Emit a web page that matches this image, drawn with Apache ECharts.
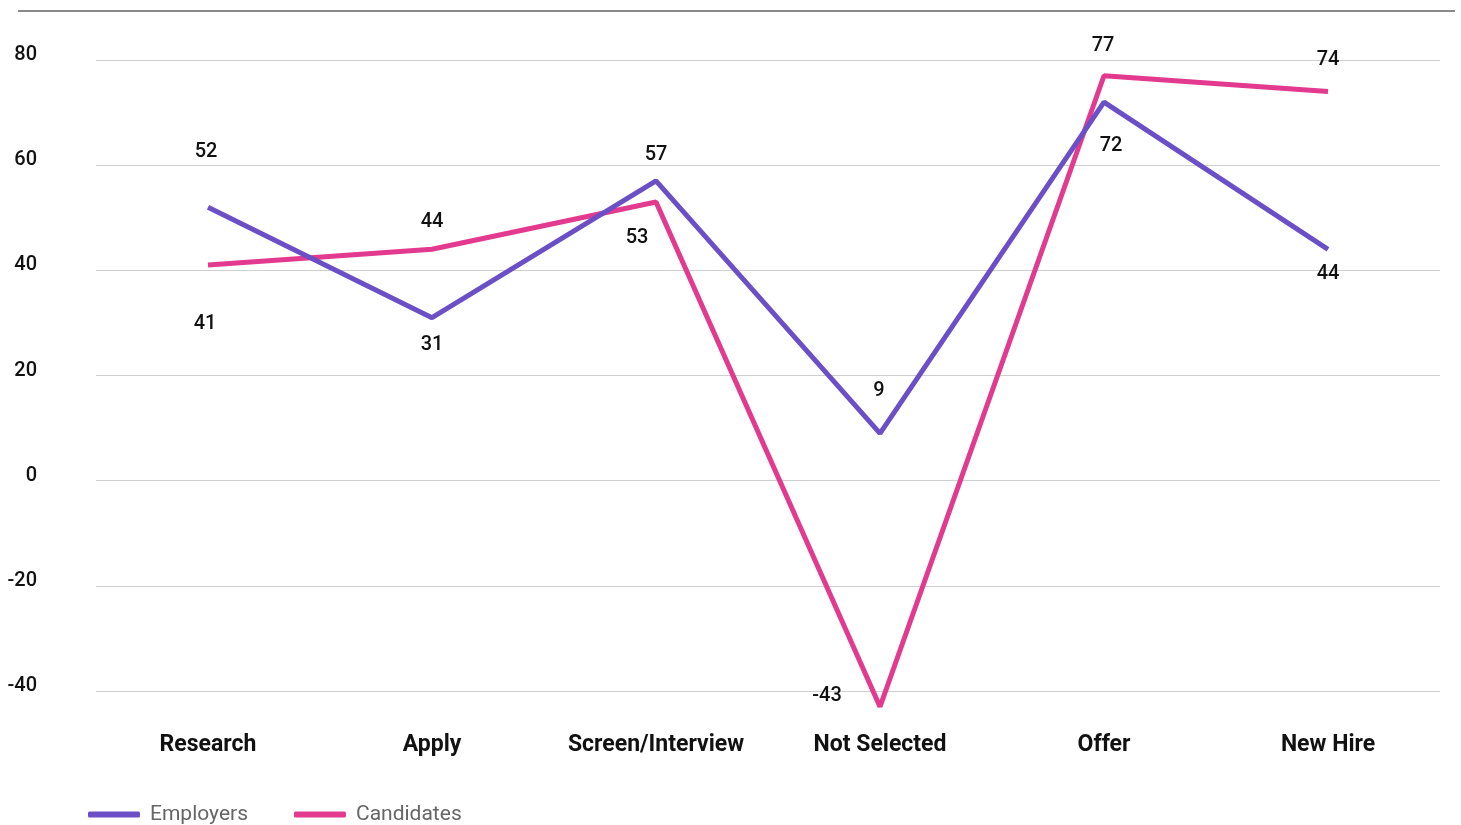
<!DOCTYPE html>
<html>
<head>
<meta charset="utf-8">
<script src="https://cdn.jsdelivr.net/npm/echarts@6/dist/echarts.min.js"></script>
<style>
  html, body { margin: 0; padding: 0; background: #fff; }
  #chart { width: 1461px; height: 825px; }
</style>
</head>
<body>
<div id="chart"></div>
<script>
const stages = ['Research', 'Apply', 'Screen/Interview', 'Not Selected', 'Offer', 'New Hire'];
const employers = [52, 31, 57, 9, 72, 44];
const candidates = [41, 44, 53, -43, 77, 74];
const yTicks = [-40, -20, 0, 20, 40, 60, 80];

// label placement around each point [dx, dy]
const employerLabelOffsets = [[-2, -55], [0, 27], [0, -26], [-1, -42], [7, 44], [0, 25]];
const candidateLabelOffsets = [[-3, 59], [0, -27], [-19, 36], [-53, -11], [-1, -30], [0, -32]];

function withLabels(values, offsets) {
  return values.map(function (v, i) {
    return { value: v, label: { offset: offsets[i] } };
  });
}

const chart = echarts.init(document.getElementById('chart'));

const labelStyle = {
  show: true,
  position: 'inside',
  color: '#111',
  fontFamily: 'Roboto',
  fontSize: 20,
  fontWeight: 500
};

const option = {
  animation: false,
  color: ['#6a4fc6', '#e23a8f'],
  grid: { left: 96, right: 21, top: 60, bottom: 134 },
  graphic: [{
    type: 'line',
    shape: { x1: 18, y1: 11, x2: 1455, y2: 11 },
    style: { stroke: '#8a8a8a', lineWidth: 2 }
  }],
  legend: {
    left: 83,
    top: 799,
    icon: 'roundRect',
    itemWidth: 52,
    itemHeight: 6,
    itemGap: 46,
    textStyle: { color: '#666', fontFamily: 'Roboto', fontSize: 21, padding: [0, 0, 0, 5] },
    data: ['Employers', 'Candidates']
  },
  xAxis: {
    type: 'category',
    data: stages,
    boundaryGap: true,
    axisLine: { show: false },
    axisTick: { show: false },
    axisLabel: {
      interval: 0,
      color: '#111',
      fontFamily: 'Roboto',
      fontSize: 23,
      fontWeight: 'bold',
      margin: 43
    }
  },
  yAxis: {
    type: 'value',
    min: yTicks[0],
    max: yTicks[yTicks.length - 1],
    interval: 20,
    axisLine: { show: false },
    axisTick: { show: false },
    splitLine: { lineStyle: { color: '#cfcfcf', width: 1 } },
    axisLabel: {
      color: '#111',
      fontFamily: 'Roboto',
      fontSize: 20,
      fontWeight: 500,
      margin: 59,
      verticalAlign: 'bottom',
      lineHeight: 10
    }
  },
  series: [{
    name: 'Employers',
    type: 'line',
    data: withLabels(employers, employerLabelOffsets),
    symbol: 'circle',
    symbolSize: 0.1,
    showSymbol: true,
    clip: false,
    lineStyle: { width: 5 },
    label: labelStyle,
    z: 3
  }, {
    name: 'Candidates',
    type: 'line',
    data: withLabels(candidates, candidateLabelOffsets),
    symbol: 'circle',
    symbolSize: 0.1,
    showSymbol: true,
    clip: false,
    lineStyle: { width: 5 },
    label: labelStyle,
    z: 2
  }]
};

chart.setOption(option);
</script>
</body>
</html>
